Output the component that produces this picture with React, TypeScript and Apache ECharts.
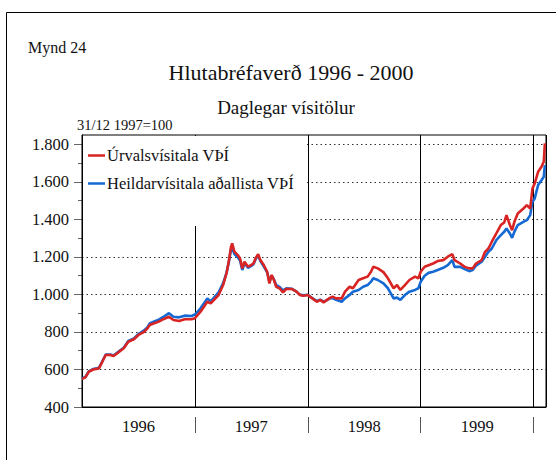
import React, { useEffect, useRef } from "react";
import * as echarts from "echarts";

const dates = [
  1996.0, 1996.03, 1996.06, 1996.1, 1996.15, 1996.18, 1996.21, 1996.25, 1996.28, 1996.33,
  1996.37, 1996.41, 1996.46, 1996.5, 1996.55, 1996.58, 1996.6, 1996.64, 1996.68, 1996.72,
  1996.77, 1996.81, 1996.86, 1996.91, 1996.97, 1997.0, 1997.05, 1997.11, 1997.14, 1997.21,
  1997.25, 1997.28, 1997.3, 1997.32, 1997.33, 1997.35, 1997.38, 1997.4, 1997.42, 1997.44,
  1997.47, 1997.5, 1997.52, 1997.54, 1997.56, 1997.58, 1997.61, 1997.64, 1997.66, 1997.68,
  1997.7, 1997.72, 1997.75, 1997.78, 1997.81, 1997.86, 1997.9, 1997.93, 1997.96, 1998.0,
  1998.03, 1998.08, 1998.11, 1998.14, 1998.17, 1998.2, 1998.22, 1998.25, 1998.3, 1998.33,
  1998.37, 1998.4, 1998.45, 1998.49, 1998.53, 1998.56, 1998.58, 1998.62, 1998.67, 1998.71,
  1998.76, 1998.79, 1998.82, 1998.86, 1998.9, 1998.95, 1998.98, 1999.0, 1999.035, 1999.07,
  1999.11, 1999.15, 1999.2, 1999.24, 1999.28, 1999.3, 1999.35, 1999.39, 1999.43, 1999.46,
  1999.49, 1999.54, 1999.57, 1999.6, 1999.63, 1999.67, 1999.71, 1999.74, 1999.76, 1999.79,
  1999.81, 1999.83, 1999.86, 1999.91, 1999.94, 1999.97, 1999.99, 2000.01, 2000.04, 2000.07,
  2000.09, 2000.1,
];

const urvalsvisitala = [
  550, 558, 588, 600, 606, 641, 677, 677, 672, 695,
  713, 748, 761, 784, 801, 819, 837, 846, 855, 868,
  881, 864, 858, 868, 868, 873, 908, 961, 952, 997,
  1050, 1113, 1175, 1254, 1272, 1228, 1210, 1192, 1139, 1175,
  1148, 1157, 1166, 1196, 1214, 1184, 1157, 1121, 1059, 1104,
  1077, 1041, 1033, 1011, 1029, 1029, 1015, 997, 993, 997,
  983, 961, 971, 958, 971, 983, 988, 979, 979, 1015,
  1041, 1033, 1077, 1086, 1095, 1121, 1148, 1139, 1119, 1086,
  1033, 1050, 1024, 1050, 1077, 1095, 1086, 1121, 1148, 1156,
  1165, 1178, 1183, 1201, 1215, 1183, 1165, 1147, 1139, 1139,
  1165, 1183, 1227, 1245, 1281, 1325, 1370, 1384, 1423, 1370,
  1343, 1387, 1432, 1458, 1476, 1458, 1565, 1592, 1654, 1681,
  1707, 1805,
];

const heildarvisitala = [
  552, 560, 590, 603, 609, 644, 680, 680, 675, 698,
  716, 752, 766, 789, 808, 826, 845, 856, 866, 880,
  900, 881, 878, 887, 885, 893, 926, 979, 963, 1011,
  1060, 1115, 1170, 1240, 1250, 1215, 1198, 1180, 1130, 1168,
  1142, 1152, 1162, 1190, 1207, 1178, 1150, 1118, 1068, 1100,
  1080, 1050, 1040, 1022, 1033, 1030, 1015, 999, 995, 998,
  985, 965, 972, 962, 970, 980, 980, 971, 961, 979,
  997, 1015, 1024, 1041, 1050, 1068, 1086, 1077, 1059, 1033,
  979, 983, 971, 997, 1015, 1024, 1033, 1068, 1100, 1115,
  1121, 1130, 1142, 1156, 1183, 1147, 1147, 1135, 1124, 1130,
  1153, 1174, 1201, 1227, 1245, 1290, 1316, 1334, 1352, 1325,
  1302, 1334, 1370, 1387, 1396, 1423, 1494, 1512, 1583, 1609,
  1627, 1690,
];

const seriesNames = ["Úrvalsvísitala VÞÍ", "Heildarvísitala aðallista VÞÍ"];
const yearLabels = ["1996", "1997", "1998", "1999"];
const yMajorTicks = [400, 600, 800, 1000, 1200, 1400, 1600, 1800];
const yMinorTicks = [500, 700, 900, 1100, 1300, 1500, 1700];
const yearBoundaries = [1997, 1998, 1999, 2000];

const FONT = "Liberation Serif";

export default function App() {
  const ref = useRef<HTMLDivElement>(null);

  useEffect(() => {
    if (!ref.current) return;
    const chart = echarts.init(ref.current, null, { renderer: "svg" });
    const red = dates.map((d, i) => [d, urvalsvisitala[i]]);
    const blue = dates.map((d, i) => [d, heildarvisitala[i]]);
    const xMin = 1996;
    const xMax = 2000.11;

    chart.setOption({
      animation: false,
      backgroundColor: "#ffffff",
      textStyle: { fontFamily: FONT },
      grid: {
        left: 82,
        top: 135,
        right: 10,
        bottom: 53,
        show: true,
        borderColor: "#000",
        borderWidth: 1,
        backgroundColor: "transparent",
        z: 1,
      },
      legend: {
        data: seriesNames.map((n) => ({ name: n, icon: "rect" })),
        orient: "vertical",
        left: 88,
        top: 147,
        padding: 0,
        itemGap: 11,
        itemWidth: 17,
        itemHeight: 2.5,
        z: 20,
        textStyle: {
          fontFamily: FONT,
          fontSize: 16.5,
          color: "#111",
          lineHeight: 16,
          padding: [0, 0, 0, -3],
        },
      },
      xAxis: [
        {
          type: "value",
          min: xMin,
          max: xMax,
          interval: 1,
          axisLine: { show: true, onZero: false, lineStyle: { color: "#000", width: 1 } },
          axisTick: { show: false },
          axisLabel: { show: false },
          splitLine: { show: true, lineStyle: { color: "#000", width: 1, type: "solid" } },
        },
        {
          type: "value",
          min: xMin,
          max: xMax,
          interval: 1,
          position: "bottom",
          offset: 10,
          axisLine: { show: false },
          axisTick: {
            show: true,
            length: 16,
            customValues: yearBoundaries,
            lineStyle: { color: "#555", width: 1 },
          },
          axisLabel: { show: false },
          splitLine: { show: false },
        },
        {
          type: "value",
          min: xMin,
          max: xMax,
          interval: 0.5,
          position: "bottom",
          axisLine: { show: false },
          axisTick: { show: false },
          splitLine: { show: false },
          axisLabel: {
            show: true,
            margin: 11,
            fontFamily: FONT,
            fontSize: 16.5,
            color: "#111",
            showMinLabel: false,
            showMaxLabel: false,
            formatter: (v: number) => {
              const frac = v - Math.floor(v);
              if (Math.abs(frac - 0.5) < 0.01) {
                const idx = Math.floor(v) - 1996;
                return yearLabels[idx] ?? "";
              }
              return "";
            },
          },
        },
      ],
      yAxis: [
        {
          type: "value",
          min: 400,
          max: 1850,
          interval: 200,
          axisLine: { show: true, onZero: false, lineStyle: { color: "#000", width: 1 } },
          axisTick: {
            show: true,
            length: 8,
            customValues: yMajorTicks,
            lineStyle: { color: "#666", width: 1 },
          },
          axisLabel: {
            show: true,
            margin: 13,
            fontFamily: FONT,
            fontSize: 16.5,
            color: "#111",
            showMaxLabel: false,
            formatter: (v: number) =>
              v > 1800
                ? ""
                : v >= 1000
                ? `${Math.floor(v / 1000)}.${String(v % 1000).padStart(3, "0")}`
                : String(v),
          },
          splitLine: {
            show: true,
            lineStyle: { color: "#333", width: 1, type: [1.5, 3] },
          },
        },
        {
          type: "value",
          min: 400,
          max: 1850,
          interval: 100,
          position: "left",
          axisLine: { show: false },
          axisTick: {
            show: true,
            length: 4,
            customValues: yMinorTicks,
            lineStyle: { color: "#666", width: 1 },
          },
          axisLabel: { show: false },
          splitLine: { show: false },
        },
      ],
      graphic: [
        {
          type: "line",
          silent: true,
          shape: { x1: 6.5, y1: 12.5, x2: 556, y2: 12.5 },
          style: { stroke: "#000", lineWidth: 1 },
          z: 30,
        },
        {
          type: "line",
          silent: true,
          shape: { x1: 6.5, y1: 12.5, x2: 6.5, y2: 460 },
          style: { stroke: "#000", lineWidth: 1 },
          z: 30,
        },
        {
          type: "rect",
          silent: true,
          shape: { x: 83, y: 136, width: 223, height: 90 },
          style: { fill: "#ffffff" },
          z: 10,
        },
        {
          type: "text",
          x: 28,
          y: 47,
          style: {
            text: "Mynd 24",
            fontFamily: FONT,
            fontSize: 16,
            fill: "#111",
            textAlign: "left",
            textVerticalAlign: "middle",
          },
          z: 30,
        },
        {
          type: "text",
          x: 291,
          y: 72,
          style: {
            text: "Hlutabréfaverð 1996 - 2000",
            fontFamily: FONT,
            fontSize: 22,
            fill: "#111",
            textAlign: "center",
            textVerticalAlign: "middle",
          },
          z: 30,
        },
        {
          type: "text",
          x: 286,
          y: 107,
          style: {
            text: "Daglegar vísitölur",
            fontFamily: FONT,
            fontSize: 19,
            fill: "#111",
            textAlign: "center",
            textVerticalAlign: "middle",
          },
          z: 30,
        },
        {
          type: "text",
          x: 77,
          y: 125,
          style: {
            text: "31/12 1997=100",
            fontFamily: FONT,
            fontSize: 14.5,
            fill: "#111",
            textAlign: "left",
            textVerticalAlign: "middle",
          },
          z: 30,
        },
      ],
      series: [
        {
          name: seriesNames[1],
          type: "line",
          xAxisIndex: 0,
          yAxisIndex: 0,
          data: blue,
          symbol: "none",
          showSymbol: false,
          lineStyle: { color: "#1569d3", width: 2.6 },
          itemStyle: { color: "#1569d3" },
          z: 3,
        },
        {
          name: seriesNames[0],
          type: "line",
          xAxisIndex: 0,
          yAxisIndex: 0,
          data: red,
          symbol: "none",
          showSymbol: false,
          lineStyle: { color: "#d92424", width: 2.6 },
          itemStyle: { color: "#d92424" },
          z: 4,
        },
      ],
    });

    return () => chart.dispose();
  }, []);

  return (
    <div
      ref={ref}
      style={{ position: "fixed", left: 0, top: 0, width: 556, height: 460, background: "#fff" }}
    />
  );
}
